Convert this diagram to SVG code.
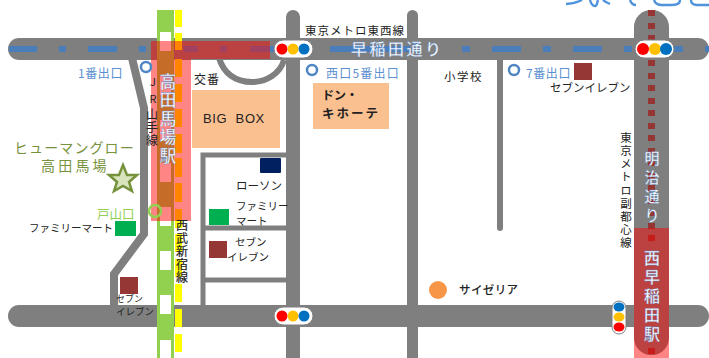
<svg xmlns="http://www.w3.org/2000/svg" width="709" height="358" viewBox="0 0 709 358">
<style>
text{font-family:"Noto Sans CJK JP","Liberation Sans",sans-serif;fill:#222}
.v{writing-mode:vertical-rl;text-orientation:upright}
.road{fill:#7f7f7f}
.line{fill:none;stroke:#7f7f7f}
.blue{fill:#4a7ebb}
.exit{fill:#5b8fd0;font-size:12px;letter-spacing:.6px}
.ring{fill:#fff;stroke:#4f86c6;stroke-width:2.5}
.w{fill:#fff;font-weight:500;stroke:#4f86c6;stroke-width:.3px}
.ye{fill:#ffff00}
.wd{fill:#fff}
.md{fill:#963634}
.seven{fill:#953735}
.fm{fill:#00b050}
.red{fill:#ff0000;fill-opacity:.48}
.pill{fill:#fff;stroke:#7f7f7f;stroke-width:1}
.t{font-size:11.5px}
.cut{fill:none;stroke:#4f93dd;stroke-width:2.4}
</style>
<g id="cropped-title">
<path class="cut" d="M566 4C572 4 578 2 582 0M590 0C591 4 592 6 595 6C597 6 597 3 598 0M603 0C605 2 608 3 610 4M630 0C631 3 633 5 636 5M654 0C655 3 657 5 662 5H672C677 5 680 3 680 0M691 0C691 3 693 5 697 5H709"/>
</g>
<g id="roads">
<rect class="road" x="286" y="10" width="14" height="358" rx="7"/>
<rect class="road" x="407" y="10" width="11" height="358" rx="5.5"/>
<rect class="road" x="497" y="55" width="6" height="176" rx="3"/>
<rect class="road" x="634" y="10" width="35" height="345" rx="17"/>
<rect class="road" x="8" y="38" width="701" height="22" rx="11"/>
<rect class="road" x="8" y="305" width="701" height="22" rx="11"/>
<path class="line" stroke-width="8" d="M132 58L144 108V234L114 274V306"/>
<path class="line" stroke-width="5" d="M203 306V155H288M203 228H288M203 280H288"/>
<path class="line" stroke-width="6" d="M219 58C224 74 236 82 252 82C266 82 280 74 284 60"/>
</g>
<g id="dashes-top">
<rect class="blue" x="9" y="46" width="28" height="6"/><rect class="blue" x="59" y="46" width="7" height="6"/><rect class="blue" x="88" y="46" width="29" height="6"/><rect class="blue" x="139" y="46" width="7" height="6"/><rect class="blue" x="184" y="46" width="14" height="6"/><rect class="blue" x="220" y="46" width="7" height="6"/><rect class="blue" x="250" y="46" width="25" height="6"/><rect class="blue" x="330" y="46" width="80" height="6"/><rect class="blue" x="462" y="46" width="8" height="6"/><rect class="blue" x="492" y="46" width="29" height="6"/><rect class="blue" x="543" y="46" width="8" height="6"/><rect class="blue" x="573" y="46" width="29" height="6"/><rect class="blue" x="624" y="46" width="8" height="6"/><rect class="blue" x="674" y="46" width="9" height="6"/><rect class="blue" x="705" y="46" width="4" height="6"/>
</g>
<g id="jr-line">
<rect x="157" y="10" width="17" height="348" fill="#92d050"/>
<rect class="wd" x="160" y="32" width="11" height="19"/><rect class="wd" x="160" y="76" width="11" height="19"/><rect class="wd" x="160" y="120" width="11" height="19"/><rect class="wd" x="160" y="163" width="11" height="19"/><rect class="wd" x="160" y="207" width="11" height="19"/><rect class="wd" x="160" y="251" width="11" height="19"/><rect class="wd" x="160" y="295" width="11" height="19"/><rect class="wd" x="160" y="340" width="11" height="18"/>
</g>
<g id="seibu-line">
<rect class="ye" x="175" y="10" width="7" height="17"/><rect class="ye" x="175" y="33" width="7" height="17"/><rect class="ye" x="175" y="59" width="7" height="18"/><rect class="ye" x="175" y="84" width="7" height="18"/><rect class="ye" x="175" y="109" width="7" height="18"/><rect class="ye" x="175" y="134" width="7" height="19"/><rect class="ye" x="175" y="158" width="7" height="19"/><rect class="ye" x="175" y="183" width="7" height="19"/><rect class="ye" x="175" y="209" width="7" height="19"/><rect class="ye" x="175" y="234" width="7" height="18"/><rect class="ye" x="175" y="259" width="7" height="18"/><rect class="ye" x="175" y="284" width="7" height="18"/><rect class="ye" x="175" y="309" width="7" height="18"/><rect class="ye" x="175" y="334" width="7" height="18"/>
</g>
<g id="metro-line">
<rect class="md" x="648" y="10" width="7" height="6"/><rect class="md" x="648" y="23" width="7" height="6"/><rect class="md" x="648" y="35" width="7" height="6"/><rect class="md" x="648" y="60" width="7" height="6"/><rect class="md" x="648" y="73" width="7" height="6"/><rect class="md" x="648" y="85" width="7" height="6"/><rect class="md" x="648" y="98" width="7" height="6"/><rect class="md" x="648" y="110" width="7" height="6"/><rect class="md" x="648" y="123" width="7" height="6"/><rect class="md" x="648" y="135" width="7" height="6"/><rect class="md" x="648" y="148" width="7" height="6"/><rect class="md" x="648" y="160" width="7" height="6"/><rect class="md" x="648" y="173" width="7" height="6"/><rect class="md" x="648" y="185" width="7" height="6"/><rect class="md" x="648" y="198" width="7" height="6"/><rect class="md" x="648" y="210" width="7" height="6"/><rect class="md" x="648" y="223" width="7" height="6"/><rect class="md" x="648" y="235" width="7" height="6"/><rect class="md" x="648" y="348" width="7" height="6"/>
</g>
<g id="takadanobaba-station">
<path class="red" d="M151 41H270V59H191V221H151Z"/>
<text class="v w" x="168" y="73" font-size="16.5" letter-spacing="2">高田馬場駅</text>
</g>
<g id="nishiwaseda-station">
<path class="red" d="M634 228H669V358H634Z"/>
<text class="v w" x="652" y="250" font-size="16" letter-spacing="3">西早稲田駅</text>
</g>
<g id="lights">
<rect class="pill" x="274" y="40" width="39" height="18" rx="9"/><circle cx="282" cy="49" r="5.5" fill="#f00"/><circle cx="293" cy="49" r="5.5" fill="#ffc000"/><circle cx="304" cy="49" r="5.5" fill="#0070c0"/>
<rect class="pill" x="274" y="307" width="39" height="18" rx="9"/><circle cx="282" cy="316" r="5.5" fill="#f00"/><circle cx="293" cy="316" r="5.5" fill="#ffc000"/><circle cx="304" cy="316" r="5.5" fill="#0070c0"/>
<rect class="pill" x="635" y="40" width="39" height="18" rx="9"/><circle cx="643" cy="49" r="6" fill="#f00"/><circle cx="655" cy="49" r="6" fill="#ffc000"/><circle cx="666" cy="49" r="6" fill="#0070c0"/>
<rect class="pill" x="612" y="301" width="14" height="33" rx="7"/><ellipse cx="619" cy="307" rx="5.5" ry="4.5" fill="#0070c0"/><ellipse cx="619" cy="317" rx="5.5" ry="4.5" fill="#ffc000"/><ellipse cx="619" cy="327" rx="5.5" ry="4.5" fill="#f00"/>
</g>
<g id="road-labels">
<text class="w" x="351" y="55" font-size="16" letter-spacing="2.5">早稲田通り</text>
<text class="v w" x="652" y="151" font-size="15" letter-spacing="4">明治通り</text>
<text class="v" x="153" y="76" font-size="11" letter-spacing="6">JR</text>
<text class="v" x="152" y="108" font-size="12" letter-spacing="1">山手線</text>
<text class="v" x="182" y="219" font-size="12" letter-spacing="1" stroke="#222" stroke-width=".2">西武新宿線</text>
<text class="v" x="626" y="132" font-size="11.5" letter-spacing="1.6">東京メトロ副都心線</text>
<text x="305" y="35" font-size="11.5" letter-spacing="1">東京メトロ東西線</text>
</g>
<g id="exit-1"><circle class="ring" cx="146" cy="67" r="5"/><text class="exit" x="78" y="78">1番出口</text></g>
<g id="exit-toyama"><circle cx="155" cy="211" r="6" fill="none" stroke="#92d050" stroke-width="2.5"/><text x="97" y="219" font-size="12.5" style="fill:#92d050">戸山口</text></g>
<g id="exit-5"><circle class="ring" cx="312" cy="70" r="5"/><text class="exit" x="326" y="78" style="letter-spacing:1.2px">西口5番出口</text></g>
<g id="exit-7"><circle class="ring" cx="514" cy="70" r="5"/><text class="exit" x="526" y="78">7番出口</text></g>
<g id="koban"><text x="194" y="84" font-size="12" letter-spacing="1">交番</text></g>
<g id="bigbox"><rect x="192" y="90" width="88" height="58" fill="#fac090"/><text x="203" y="123" font-size="13" style="font-family:'Liberation Sans',sans-serif" letter-spacing=".6" xml:space="preserve">BIG  BOX</text></g>
<g id="donki"><rect x="313" y="83" width="76" height="46" fill="#fac090"/><text x="322" y="100" font-size="12" font-weight="700">ドン・</text><text x="322" y="118" font-size="12.5" font-weight="700" letter-spacing="2">キホーテ</text></g>
<g id="school"><text x="444" y="81" font-size="11.5" letter-spacing="1.5">小学校</text></g>
<g id="seven-ne"><rect class="seven" x="574" y="63" width="18" height="17"/><text class="t" x="550" y="92">セブンイレブン</text></g>
<g id="humangro"><text x="14" y="153" font-size="14" letter-spacing="1.1" style="fill:#76923c">ヒューマングロー</text><text x="41" y="171" font-size="14" letter-spacing="3.2" style="fill:#76923c">高田馬場</text><path d="M123 165L127 175H137L129 182L132 191L123 186L114 191L117 182L109 175H119Z" fill="#d8e4bc" stroke="#76923c" stroke-width="2.5"/></g>
<g id="lawson"><rect x="260" y="158" width="21" height="15" rx="1" fill="#002060"/><text class="t" x="236" y="190">ローソン</text></g>
<g id="family-east"><rect class="fm" x="209" y="209" width="20" height="16"/><text x="236" y="210" font-size="10.5">ファミリー</text><text x="236" y="225" font-size="10.5">マート</text></g>
<g id="seven-east"><rect class="seven" x="209" y="241" width="18" height="17"/><text x="235" y="246" font-size="10.5">セブン</text><text x="227" y="261" font-size="10.5">イレブン</text></g>
<g id="family-west"><rect class="fm" x="115" y="221" width="21" height="15"/><text x="29" y="232" font-size="10.5">ファミリーマート</text></g>
<g id="seven-sw"><rect class="seven" x="120" y="277" width="18" height="17"/><text x="116" y="302" font-size="9">セブン</text><text x="116" y="315" font-size="9.5">イレブン</text></g>
<g id="saizeriya"><circle cx="438" cy="290" r="9" fill="#f79646"/><text x="459" y="294" font-size="11.5" font-weight="500" letter-spacing=".4">サイゼリア</text></g>
</svg>
